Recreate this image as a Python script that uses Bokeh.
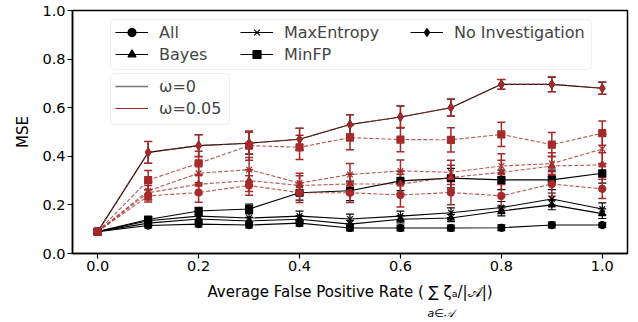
from bokeh.plotting import figure
from bokeh.models import (Range1d, FixedTicker, ColumnDataSource, Whisker, TeeHead,
                          Legend, LegendItem, Title, NumeralTickFormatter, BoxAnnotation)
from bokeh.embed import file_html
from bokeh.resources import INLINE

# ---------------- data ----------------
fpr = [0.0, 0.1, 0.2, 0.3, 0.4, 0.5, 0.6, 0.7, 0.8, 0.9, 1.0]
x_ticks = [0.0, 0.2, 0.4, 0.6, 0.8, 1.0]
y_ticks = [0.0, 0.2, 0.4, 0.6, 0.8, 1.0]

# omega = 0 (black, solid)
all_w0 = [0.09, 0.115, 0.121, 0.117, 0.125, 0.105, 0.105, 0.105, 0.106, 0.117, 0.117]
bayes_w0 = [0.09, 0.125, 0.142, 0.134, 0.141, 0.121, 0.141, 0.146, 0.175, 0.200, 0.164]
maxent_w0 = [0.09, 0.135, 0.154, 0.146, 0.154, 0.142, 0.154, 0.168, 0.189, 0.224, 0.183]
minfp_w0 = [0.09, 0.140, 0.175, 0.183, 0.250, 0.258, 0.299, 0.310, 0.303, 0.303, 0.330]
noinv_w0 = [0.09, 0.416, 0.444, 0.454, 0.470, 0.531, 0.562, 0.600, 0.696, 0.696, 0.680]

all_w0_err = [0.01, 0.010, 0.012, 0.012, 0.012, 0.012, 0.012, 0.012, 0.012, 0.012, 0.010]
bayes_w0_err = [0.01, 0.012, 0.015, 0.015, 0.015, 0.015, 0.015, 0.015, 0.020, 0.020, 0.020]
maxent_w0_err = [0.01, 0.015, 0.020, 0.020, 0.020, 0.020, 0.020, 0.020, 0.025, 0.025, 0.025]
minfp_w0_err = [0.01, 0.012, 0.015, 0.020, 0.030, 0.040, 0.040, 0.040, 0.040, 0.040, 0.040]
noinv_w0_err = [0.01, 0.045, 0.045, 0.045, 0.045, 0.040, 0.045, 0.035, 0.020, 0.030, 0.025]

# omega = 0.05 (red, dashed)
all_w05 = [0.09, 0.237, 0.251, 0.280, 0.250, 0.250, 0.241, 0.251, 0.237, 0.286, 0.266]
bayes_w05 = [0.09, 0.250, 0.285, 0.300, 0.280, 0.286, 0.286, 0.313, 0.334, 0.360, 0.365]
maxent_w05 = [0.09, 0.258, 0.330, 0.345, 0.290, 0.325, 0.340, 0.334, 0.360, 0.370, 0.430]
minfp_w05 = [0.09, 0.302, 0.371, 0.444, 0.437, 0.477, 0.469, 0.468, 0.490, 0.448, 0.495]
noinv_w05 = [0.09, 0.416, 0.444, 0.454, 0.470, 0.531, 0.562, 0.600, 0.696, 0.696, 0.680]

all_w05_err = [0.01, 0.025, 0.040, 0.040, 0.040, 0.040, 0.050, 0.050, 0.050, 0.050, 0.040]
bayes_w05_err = [0.01, 0.030, 0.040, 0.045, 0.040, 0.040, 0.040, 0.050, 0.050, 0.040, 0.050]
maxent_w05_err = [0.01, 0.035, 0.045, 0.050, 0.040, 0.045, 0.045, 0.050, 0.050, 0.045, 0.060]
minfp_w05_err = [0.01, 0.040, 0.050, 0.060, 0.050, 0.050, 0.050, 0.050, 0.050, 0.050, 0.050]
noinv_w05_err = [0.01, 0.045, 0.045, 0.045, 0.045, 0.040, 0.045, 0.035, 0.020, 0.030, 0.025]

series_names = ["All", "Bayes", "MaxEntropy", "MinFP", "No Investigation"]
markers = ["circle", "triangle", "x", "square", "diamond"]
omega_labels = ["\u03c9=0", "\u03c9=0.05"]
xlabel_main = "Average False Positive Rate ( \u2211 \u03b6\u2090/|\U0001d49c|)"
xlabel_sub = "a\u2208\U0001d49c"

w0_vals = [all_w0, bayes_w0, maxent_w0, minfp_w0, noinv_w0]
w0_errs = [all_w0_err, bayes_w0_err, maxent_w0_err, minfp_w0_err, noinv_w0_err]
w05_vals = [all_w05, bayes_w05, maxent_w05, minfp_w05, noinv_w05]
w05_errs = [all_w05_err, bayes_w05_err, maxent_w05_err, minfp_w05_err, noinv_w05_err]

RED = "#a52a2a"
FONT = "DejaVu Sans"

# layout (pixels)
W, H = 638, 322
FL, FT, FW, FH = 72, 10, 555, 243
X0, X1, Y0, Y1 = -0.05, 1.05, 0.0, 1.0


def px2x(px):
    return X0 + (px - FL) / FW * (X1 - X0)


def py2y(py):
    return Y0 + (FT + FH - py) / FH * (Y1 - Y0)


p = figure(output_backend="svg", toolbar_location=None,
           x_range=Range1d(X0, X1), y_range=Range1d(Y0, Y1),
           frame_width=FW, frame_height=FH,
           min_border_left=FL, min_border_right=W - FL - FW,
           min_border_top=FT, min_border_bottom=H - FT - FH)
p.background_fill_color = "white"
p.border_fill_color = "white"
p.outline_line_color = "black"
p.outline_line_width = 1.5
p.xgrid.visible = False
p.ygrid.visible = False

for ax in (p.xaxis[0], p.yaxis[0]):
    ax.axis_line_width = 1.5
    ax.axis_line_color = "black"
    ax.major_tick_in = 0
    ax.major_tick_out = 5
    ax.major_tick_line_width = 1.2
    ax.minor_tick_line_color = None
    ax.major_label_text_font = FONT
    ax.major_label_text_font_size = "14.5px"
    ax.major_label_text_color = "black"
    ax.axis_label_text_font = FONT
    ax.axis_label_text_font_size = "15px"
    ax.axis_label_text_font_style = "normal"
    ax.axis_label_text_color = "black"
    ax.formatter = NumeralTickFormatter(format="0.0")
    ax.major_label_standoff = 2

p.xaxis[0].ticker = FixedTicker(ticks=x_ticks)
p.yaxis[0].ticker = FixedTicker(ticks=y_ticks)
p.yaxis[0].axis_label = "MSE"
p.yaxis[0].axis_label_standoff = 7
p.xaxis[0].axis_label = xlabel_main
p.xaxis[0].axis_label_standoff = 9

# subscript of the summation sign, placed under it
p.add_layout(Title(text=xlabel_sub, align="left", offset=355, standoff=3,
                   text_font=FONT, text_font_size="11px", text_font_style="italic",
                   text_color="black"), "below")


def draw(vals, errs, marker, color, dash, line_alpha, wlw):
    lower = [v - e for v, e in zip(vals, errs)]
    upper = [v + e for v, e in zip(vals, errs)]
    src = ColumnDataSource(dict(x=fpr, y=vals, lo=lower, up=upper))
    w = Whisker(source=src, base="x", lower="lo", upper="up",
                line_color=color, line_width=wlw,
                upper_head=TeeHead(size=8, line_color=color, line_width=wlw),
                lower_head=TeeHead(size=8, line_color=color, line_width=wlw))
    p.add_layout(w)
    lr = p.line("x", "y", source=src, line_color=color, line_width=1.1,
                line_dash=dash, line_alpha=line_alpha)
    size = 8 if marker in ("x", "diamond") else 7
    sr = p.scatter("x", "y", source=src, marker=marker, size=size,
                   fill_color=color, line_color=color, line_width=1.2)
    return lr, sr


black_rends = []
for vals, errs, m in zip(w0_vals, w0_errs, markers):
    black_rends.append(draw(vals, errs, m, "black", "solid", 1.0, 1.2))
for vals, errs, m in zip(w05_vals, w05_errs, markers):
    draw(vals, errs, m, RED, "4 2", 0.8, 1.5)

# legend frames
p.add_layout(BoxAnnotation(left=px2x(110), right=px2x(591), top=py2y(19), bottom=py2y(69),
                           fill_color="white", fill_alpha=0.85,
                           line_color="#cccccc", line_width=1, border_radius=4))
p.add_layout(BoxAnnotation(left=px2x(110), right=px2x(229), top=py2y(73), bottom=py2y(124),
                           fill_color="white", fill_alpha=0.85,
                           line_color="#cccccc", line_width=1, border_radius=4))

leg_kw = dict(label_text_font=FONT, label_text_font_size="16px",
              glyph_width=33, glyph_height=20, label_height=20, spacing=2,
              padding=0, margin=0, label_standoff=11,
              border_line_color=None, background_fill_alpha=0.0)

# legend for methods, in three columns
cols = [(0, 2, 115), (2, 4, 240), (4, 5, 410)]
for a, b, gx in cols:
    items = [LegendItem(label=series_names[i], renderers=list(black_rends[i])) for i in range(a, b)]
    nrows = b - a
    h = nrows * 20 + (nrows - 1) * 2
    top_py = 22
    leg = Legend(items=items, location=(gx - FL, FT + FH - top_py - h), **leg_kw)
    p.add_layout(leg, "center")

# legend for omega
g0 = p.line([-1, -0.9], [-1, -1], line_color="#777777", line_width=1.5)
g1 = p.line([-1, -0.9], [-1, -1], line_color=RED, line_width=1.0)
items2 = [LegendItem(label=omega_labels[0], renderers=[g0]),
          LegendItem(label=omega_labels[1], renderers=[g1])]
leg2 = Legend(items=items2, location=(115 - FL, FT + FH - 76 - 42), **leg_kw)
p.add_layout(leg2, "center")

open("out.html", "w").write(file_html(p, INLINE))
